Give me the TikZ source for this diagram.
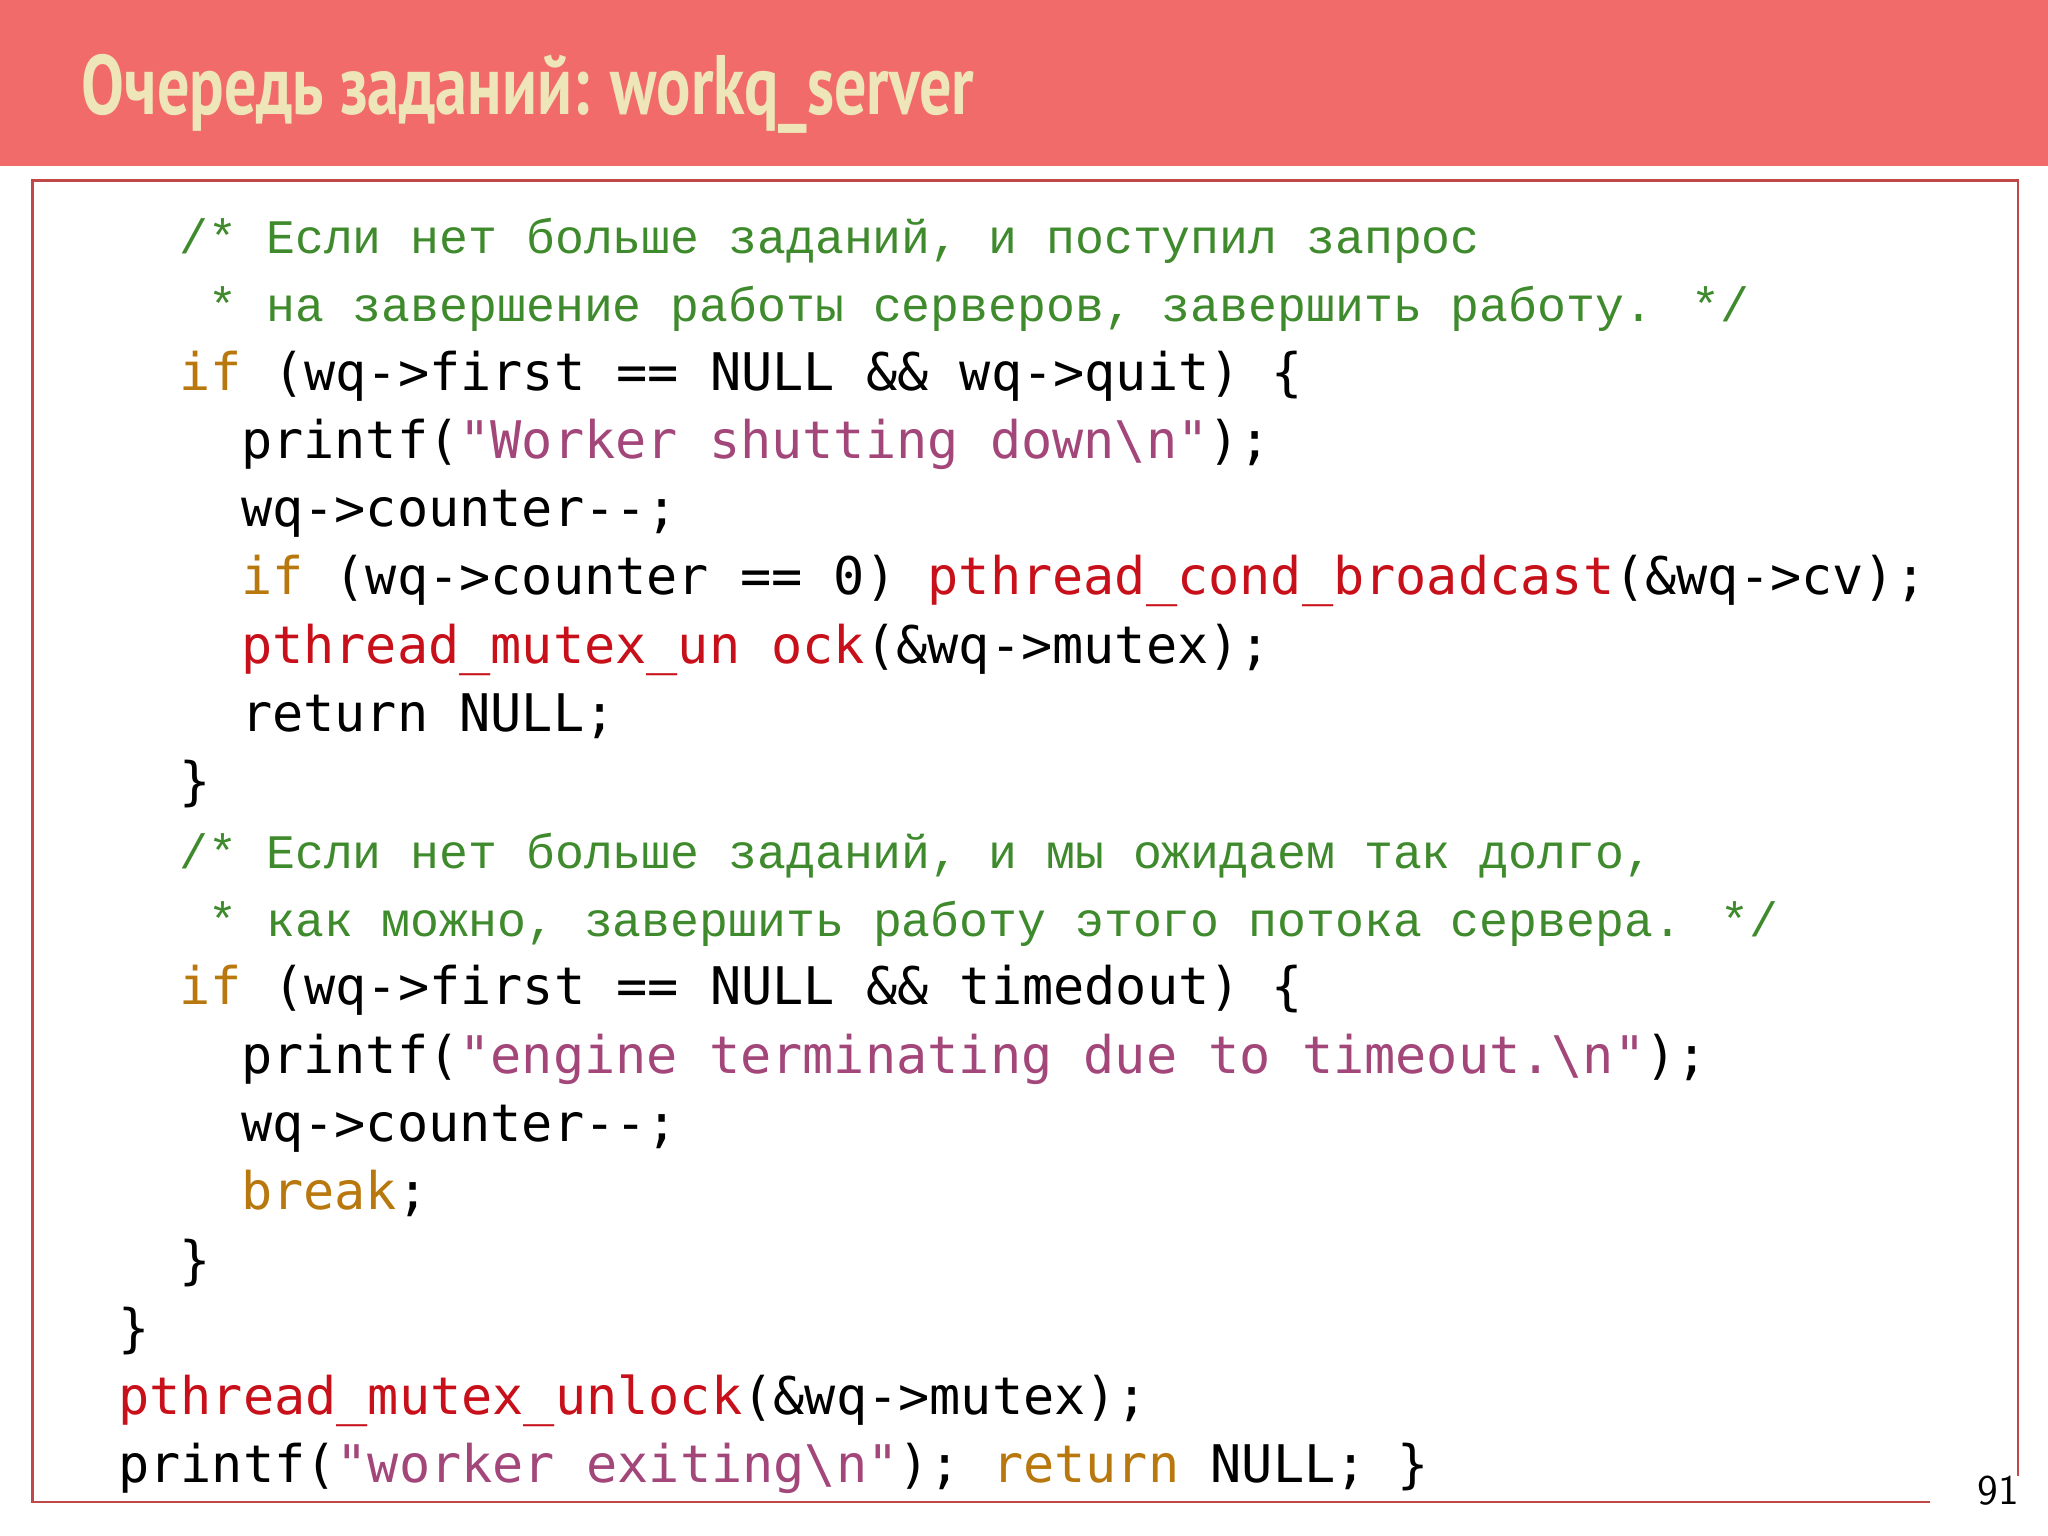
\documentclass[tikz,border=0pt]{standalone}
\usepackage{fontspec}
\usepackage{graphicx}
\newfontfamily\codef{DejaVu Sans Mono}
\newfontfamily\commf{Liberation Mono}
\newfontfamily\titlef{PT Sans}
\definecolor{barred}{HTML}{F26B6B}
\definecolor{titlecol}{HTML}{EEE6B8}
\definecolor{boxline}{HTML}{C04848}
\definecolor{cgreen}{HTML}{3E8A2C}
\definecolor{ckey}{HTML}{B8780E}
\definecolor{cfun}{HTML}{C8101A}
\definecolor{cstr}{HTML}{A3467A}
\newcommand{\kw}[1]{\textcolor{ckey}{#1}}
\newcommand{\fn}[1]{\textcolor{cfun}{#1}}
\newcommand{\st}[1]{\textcolor{cstr}{#1}}
\newcommand{\bsl}{\textbackslash}
\tikzset{
 code/.style={anchor=base west,inner sep=0,font=\codef\fontsize{14.75pt}{16pt}\selectfont},
 comm/.style={anchor=base west,inner sep=0,text=cgreen,font=\commf\fontsize{13.7pt}{16pt}\selectfont}
}
\begin{document}
\begin{tikzpicture}[x=0.013061cm,y=-0.013061cm]
\useasboundingbox (0,0) rectangle (1568,1176);
\fill[white] (0,0) rectangle (1568,1176);
\fill[barred] (0,0) rectangle (1568,127);
\node[anchor=base west,inner sep=0,text=titlecol,font=\titlef\bfseries\fontsize{24pt}{26pt}\selectfont] (title) at (62,88) {\scalebox{0.76}[1]{Очередь заданий: workq\_server}};
\draw[boxline,line width=0.8pt] (1478,1150) -- (25,1150) -- (25,138) -- (1545,138) -- (1545,1130);
\node[anchor=base,inner sep=0,font=\sffamily\fontsize{12pt}{14pt}\selectfont] (pg) at (1530,1152) {91};
\def\L#1{\fpeval{194+52.3*#1}}
\node[comm] (l0) at (137,\L{0}) {/* Если нет больше заданий, и поступил запрос};
\node[comm] (l1) at (137,\L{1}) {\ * на завершение работы серверов, завершить работу. */};
\node[code] (l2) at (137,\L{2}) {\kw{if} (wq->first == NULL \&\& wq->quit) \{};
\node[code] (l3) at (184,\L{3}) {printf(\st{"Worker shutting down\bsl n"});};
\node[code] (l4) at (184,\L{4}) {wq->counter-{}-;};
\node[code] (l5) at (184,\L{5}) {\kw{if} (wq->counter == 0) \fn{pthread\_cond\_broadcast}(\&wq->cv);};
\node[code] (l6) at (184,\L{6}) {\fn{pthread\_mutex\_un ock}(\&wq->mutex);};
\node[code] (l7) at (184,\L{7}) {return NULL;};
\node[code] (l8) at (137,\L{8}) {\}};
\node[comm] (l9) at (137,\L{9}) {/* Если нет больше заданий, и мы ожидаем так долго,};
\node[comm] (l10) at (137,\L{10}) {\ * как можно, завершить работу этого потока сервера. */};
\node[code] (l11) at (137,\L{11}) {\kw{if} (wq->first == NULL \&\& timedout) \{};
\node[code] (l12) at (184,\L{12}) {printf(\st{"engine terminating due to timeout.\bsl n"});};
\node[code] (l13) at (184,\L{13}) {wq->counter-{}-;};
\node[code] (l14) at (184,\L{14}) {\kw{break};};
\node[code] (l15) at (137,\L{15}) {\}};
\node[code] (l16) at (90,\L{16}) {\}};
\node[code] (l17) at (90,\L{17}) {\fn{pthread\_mutex\_unlock}(\&wq->mutex);};
\node[code] (l18) at (90,\L{18}) {printf(\st{"worker exiting\bsl n"}); \kw{return} NULL; \}};
\end{tikzpicture}
\end{document}
